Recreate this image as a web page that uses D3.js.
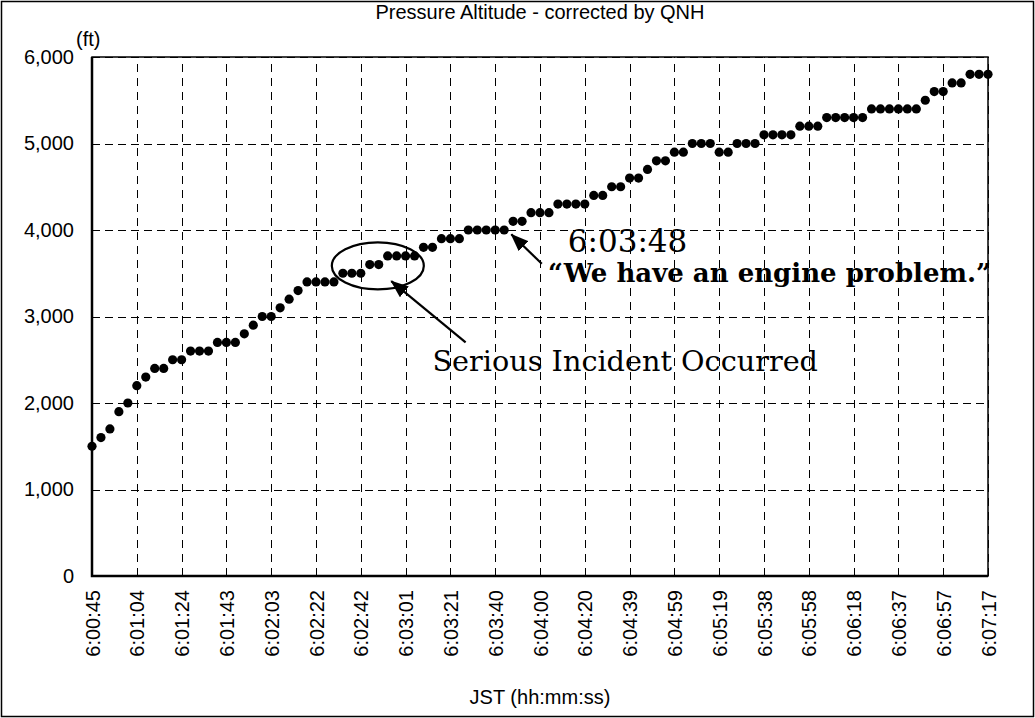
<!DOCTYPE html>
<html lang="en">
<head>
    <meta charset="UTF-8">
    <title>Pressure Altitude - corrected by QNH</title>
    <script src="https://cdn.jsdelivr.net/npm/d3@7"></script>
    <style>
        body{ margin:0; background:#fff; }
        text{ font-family: Arial, "Liberation Sans", sans-serif; fill:#000; }
        .note{ font-family: "DejaVu Serif", serif; }
    </style>
</head>
<body>
<div class="container"></div>
<script>
    ////////////////////////////////////////////////////////////////
    /*                         Data                               */
    ////////////////////////////////////////////////////////////////

    // altitude (ft) of every recorded sample, left to right
    const altitude = [
        1500,1600,1700,1900,2000,2200,2300,2400,2400,2500,
        2500,2600,2600,2600,2700,2700,2700,2800,2900,3000,
        3000,3100,3200,3300,3400,3400,3400,3400,3500,3500,
        3500,3600,3600,3700,3700,3700,3700,3800,3800,3900,
        3900,3900,4000,4000,4000,4000,4000,4100,4100,4200,
        4200,4200,4300,4300,4300,4300,4400,4400,4500,4500,
        4600,4600,4700,4800,4800,4900,4900,5000,5000,5000,
        4900,4900,5000,5000,5000,5100,5100,5100,5100,5200,
        5200,5200,5300,5300,5300,5300,5300,5400,5400,5400,
        5400,5400,5400,5500,5600,5600,5700,5700,5800,5800,
        5800
    ]
    // time labels, one every 5 samples
    const timeLabels = ["6:00:45","6:01:04","6:01:24","6:01:43","6:02:03","6:02:22","6:02:42",
        "6:03:01","6:03:21","6:03:40","6:04:00","6:04:20","6:04:39","6:04:59","6:05:19",
        "6:05:38","6:05:58","6:06:18","6:06:37","6:06:57","6:07:17"]
    const yTicks = [0,1000,2000,3000,4000,5000,6000]

    const chartTitle = "Pressure Altitude - corrected by QNH"
    const xTitle = "JST (hh:mm:ss)"
    const yUnit = "(ft)"
    const incidentText = "Serious Incident Occurred"
    const callTime = "6:03:48"
    const callText = "\u201CWe have an engine problem.\u201D"

    ////////////////////////////////////////////////////////////////
    /*                  Containers and scales                     */
    ////////////////////////////////////////////////////////////////

    const W = 1035, H = 718
    const mLeft = 92, mRight = 988, mTop = 57, mBottom = 576

    const svg = d3.select('.container').append("svg")
        .attr("width",W).attr("height",H)

    const x = d3.scaleLinear().domain([0,altitude.length-1]).range([mLeft,mRight])
    const y = d3.scaleLinear().domain([0,6000]).range([mBottom,mTop])

    // outer frame
    svg.append("rect").attr("x",1.5).attr("y",1.5).attr("width",W-3).attr("height",H-3)
        .attr("fill","none").attr("stroke","#000").attr("stroke-width",1.5)

    ////////////////////////////////////////////////////////////////
    /*                     Axes and grid                          */
    ////////////////////////////////////////////////////////////////

    const tickIdx = d3.range(0,altitude.length,5)

    const xAxis = svg.append("g").attr("transform",`translate(0,${mBottom})`)
        .call(d3.axisBottom(x).tickValues(tickIdx).tickSize(-(mBottom-mTop))
            .tickFormat((d,i)=>timeLabels[i]))
    xAxis.select(".domain").remove()
    xAxis.selectAll("line").attr("stroke","#000").attr("stroke-dasharray","8,6")
        .attr("shape-rendering","crispEdges")
    xAxis.selectAll("text")
        .attr("transform","rotate(-90)")
        .attr("x",-14).attr("y",0).attr("dy","0.35em")
        .style("text-anchor","end")
        .style("font-size","20px")
        .style("font-family","Arial, 'Liberation Sans', sans-serif")

    const yAxis = svg.append("g").attr("transform",`translate(${mLeft},0)`)
        .call(d3.axisLeft(y).tickValues(yTicks).tickSize(-(mRight-mLeft)).tickPadding(18)
            .tickFormat(d3.format(",")))
    yAxis.select(".domain").remove()
    yAxis.selectAll("line").attr("stroke","#000").attr("stroke-dasharray","8,5")
        .attr("shape-rendering","crispEdges")
    yAxis.selectAll("text")
        .style("font-size","20px")
        .style("font-family","Arial, 'Liberation Sans', sans-serif")

    // plot border, with heavier left/bottom axis lines
    svg.append("rect").attr("x",mLeft).attr("y",mTop).attr("width",mRight-mLeft).attr("height",mBottom-mTop)
        .attr("fill","none").attr("stroke","#000").attr("stroke-width",1.5)
    svg.append("path").attr("d",`M${mLeft},${mTop}V${mBottom}H${mRight}`)
        .attr("fill","none").attr("stroke","#000").attr("stroke-width",2.5)

    ////////////////////////////////////////////////////////////////
    /*                         Points                             */
    ////////////////////////////////////////////////////////////////

    svg.append("g").selectAll("circle")
        .data(altitude)
        .join("circle")
        .attr("cx",(d,i)=>x(i))
        .attr("cy",d=>y(d))
        .attr("r",4.6)
        .attr("fill","#000")

    ////////////////////////////////////////////////////////////////
    /*                         Texts                              */
    ////////////////////////////////////////////////////////////////

    svg.append("text").attr("x",(mLeft+mRight)/2).attr("y",19)
        .attr("text-anchor","middle").style("font-size","20px").text(chartTitle)
    svg.append("text").attr("x",76).attr("y",46).style("font-size","20px").text(yUnit)
    svg.append("text").attr("x",(mLeft+mRight)/2).attr("y",704)
        .attr("text-anchor","middle").style("font-size","20px").text(xTitle)

    ////////////////////////////////////////////////////////////////
    /*                      Annotations                           */
    ////////////////////////////////////////////////////////////////

    const defs = svg.append("defs")
    defs.append("marker").attr("id","head")
        .attr("viewBox","0 0 18 14").attr("refX",17).attr("refY",7)
        .attr("markerWidth",18).attr("markerHeight",14).attr("markerUnits","userSpaceOnUse")
        .attr("orient","auto")
        .append("path").attr("d","M0,0L18,7L0,14Z").attr("fill","#000")

    // circled incident points
    svg.append("ellipse")
        .attr("cx",x(31.9)).attr("cy",y(3585))
        .attr("rx",46).attr("ry",23.5)
        .attr("fill","none").attr("stroke","#000").attr("stroke-width",2.2)

    svg.append("line")
        .attr("x1",x(41.7)).attr("y1",y(2700))
        .attr("x2",x(33.4)).attr("y2",y(3410))
        .attr("stroke","#000").attr("stroke-width",2.2).attr("marker-end","url(#head)")
    svg.append("text").attr("class","note")
        .attr("x",x(38)).attr("y",y(2365))
        .style("font-size","28.7px").text(incidentText)

    // radio call
    svg.append("line")
        .attr("x1",x(50.2)).attr("y1",y(3610))
        .attr("x2",x(46.8)).attr("y2",y(3950))
        .attr("stroke","#000").attr("stroke-width",2.2).attr("marker-end","url(#head)")
    svg.append("text").attr("class","note")
        .attr("x",x(53.1)).attr("y",y(3745))
        .style("font-size","31px").text(callTime)
    svg.append("text").attr("class","note")
        .attr("x",x(50.9)).attr("y",y(3400))
        .style("font-size","26px").style("font-weight","bold").text(callText)
</script>
</body>
</html>
